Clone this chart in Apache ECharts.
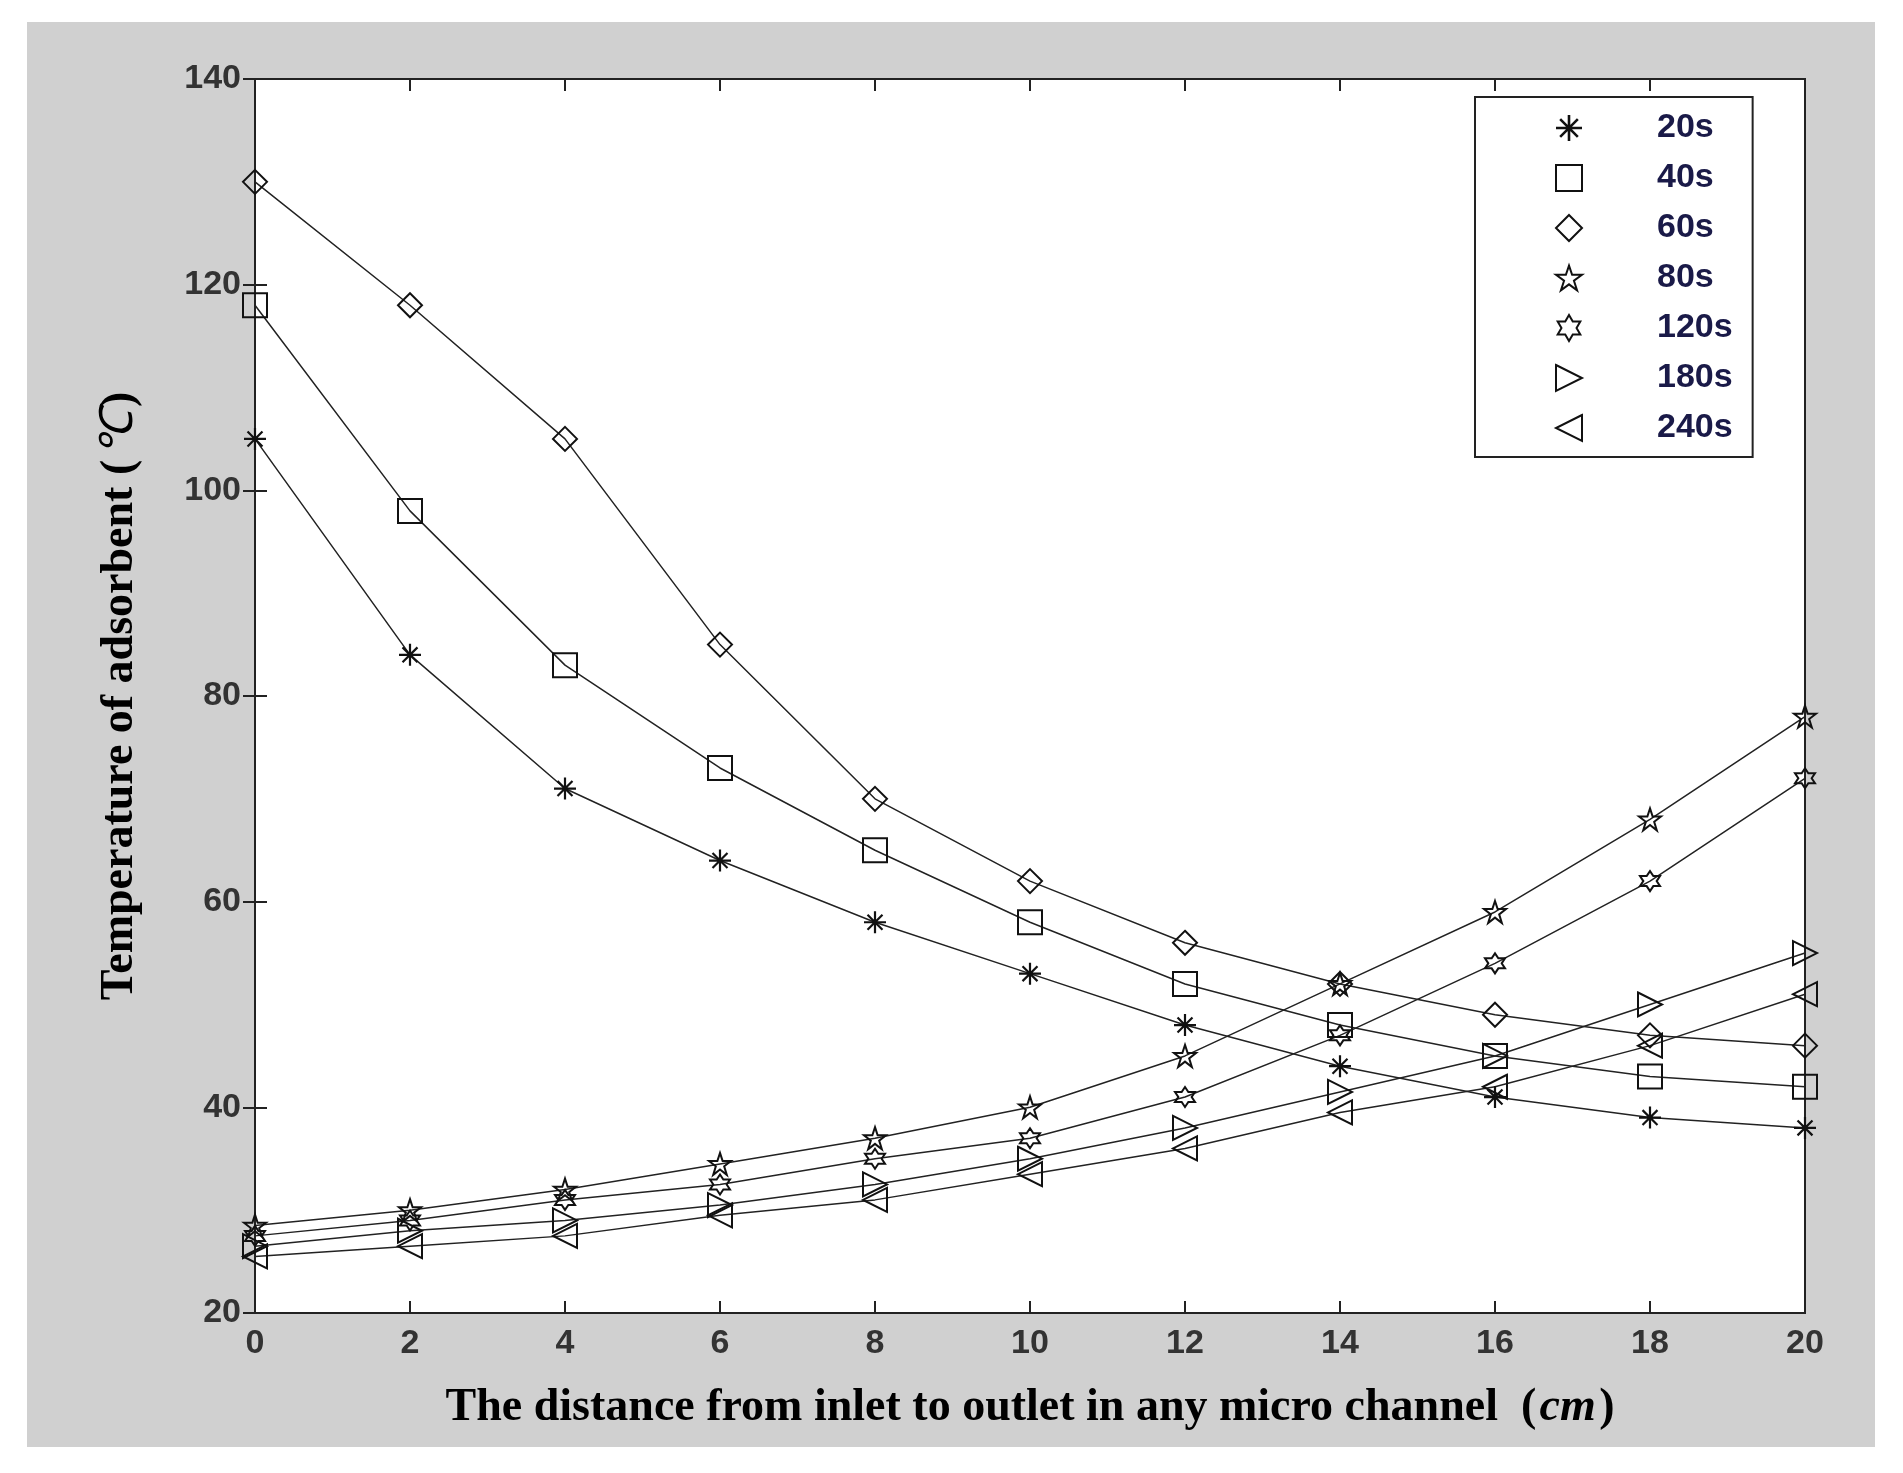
<!DOCTYPE html>
<html>
<head>
<meta charset="utf-8">
<script src="https://cdn.jsdelivr.net/npm/echarts@6/dist/echarts.min.js"></script>
<style>
  body { margin: 0; background: #fff; }
  #chart { position: absolute; left: 27px; top: 22px; width: 1848px; height: 1425px; background: #d0d0d0; }
</style>
</head>
<body>
<div id="chart"></div>
<script>
// distance along channel (cm)
const distance = [0, 2, 4, 6, 8, 10, 12, 14, 16, 18, 20];
const names = ['20s', '40s', '60s', '80s', '120s', '180s', '240s'];
const t20 = [105, 84, 71, 64, 58, 53, 48, 44, 41, 39, 38];
const t40 = [118, 98, 83, 73, 65, 58, 52, 48, 45, 43, 42];
const t60 = [130, 118, 105, 85, 70, 62, 56, 52, 49, 47, 46];
const t80 = [28.5, 30, 32, 34.5, 37, 40, 45, 52, 59, 68, 78];
const t120 = [27.5, 29, 31, 32.5, 35, 37, 41, 47, 54, 62, 72];
const t180 = [26.5, 28, 29, 30.5, 32.5, 35, 38, 41.5, 45, 50, 55];
const t240 = [25.5, 26.5, 27.5, 29.5, 31, 33.5, 36, 39.5, 42, 46, 51];
const allData = [t20, t40, t60, t80, t120, t180, t240];

// marker shapes (matlab-like)
const asterisk = 'path://M9,0 L11,0 L11,20 L9,20 Z M0,9 L20,9 L20,11 L0,11 Z M2.5,3.9 L3.9,2.5 L17.5,16.1 L16.1,17.5 Z M16.1,2.5 L17.5,3.9 L3.9,17.5 L2.5,16.1 Z';
const star5 = 'path://M10,0 L12.4,7 L20,7 L13.8,11.6 L16.2,19 L10,14.4 L3.8,19 L6.2,11.6 L0,7 L7.6,7 Z';
const hexagram = 'path://M10,0 L12.9,5 L18.7,5 L15.8,10 L18.7,15 L12.9,15 L10,20 L7.1,15 L1.3,15 L4.2,10 L1.3,5 L7.1,5 Z';
const triRight = 'path://M0,0 L20,10 L0,20 Z';
const triLeft = 'path://M20,0 L0,10 L20,20 Z';
const symbols = [asterisk, 'rect', 'diamond', star5, hexagram, triRight, triLeft];
const sizes = [22, 24, 24, 22, 20, 24, 24];

const chart = echarts.init(document.getElementById('chart'));
const series = names.map((n, i) => ({
  name: n,
  type: 'line',
  data: distance.map((x, j) => [x, allData[i][j]]),
  symbol: symbols[i],
  symbolSize: sizes[i],
  lineStyle: { color: '#222', width: 1.5 },
  itemStyle: i === 0 ? { color: '#111' } : { color: 'rgba(255,255,255,0)', borderColor: '#111', borderWidth: 2 },
  z: 3
}));

const axisLabel = { color: '#333', fontFamily: 'Arial', fontWeight: 'bold', fontSize: 34, margin: 14 };
const tick = { inside: true, length: 12, lineStyle: { color: '#222', width: 2 } };
const line = { lineStyle: { color: '#222', width: 2 } };
chart.setOption({
  animation: false,
  grid: { left: 228, top: 57, width: 1550, height: 1234, show: true, backgroundColor: '#fff', borderColor: '#222', borderWidth: 2 },
  legend: {
    orient: 'vertical',
    left: 1448, top: 75,
    padding: [14, 20, 12, 80],
    itemGap: 16,
    itemWidth: 26, itemHeight: 26,
    backgroundColor: '#fff',
    borderColor: '#222', borderWidth: 2,
    textStyle: { color: '#1a1a48', fontFamily: 'Arial', fontWeight: 'bold', fontSize: 34, padding: [0, 0, 0, 70] },
    data: names.map((n, i) => ({ name: n, icon: symbols[i] }))
  },
  xAxis: [
    { type: 'value', min: 0, max: 20, interval: 2, position: 'bottom',
      name: '{a|The distance from inlet to outlet in any micro channel  (} {i|cm} {a|)}',
      nameLocation: 'middle', nameGap: 72,
      nameTextStyle: { rich: {
        a: { fontFamily: 'Liberation Serif', fontWeight: 'bold', fontSize: 46, color: '#000' },
        i: { fontFamily: 'Liberation Serif', fontWeight: 'bold', fontStyle: 'italic', fontSize: 46, color: '#000' } } },
      axisLine: line, axisTick: tick, splitLine: { show: false }, axisLabel },
    { type: 'value', min: 0, max: 20, interval: 2, position: 'top',
      axisLine: line, axisTick: tick, axisLabel: { show: false }, splitLine: { show: false } }
  ],
  yAxis: [
    { type: 'value', min: 20, max: 140, interval: 20, position: 'left',
      name: '{a|Temperature of adsorbent (} {i|℃} {a|)}',
      nameLocation: 'middle', nameGap: 112,
      nameTextStyle: { rich: {
        a: { fontFamily: 'Liberation Serif', fontWeight: 'bold', fontSize: 46, color: '#000' },
        i: { fontFamily: 'Liberation Serif', fontStyle: 'italic', fontSize: 46, color: '#000' } } },
      axisLine: line, axisTick: tick, splitLine: { show: false }, axisLabel },
    { type: 'value', min: 20, max: 140, interval: 20, position: 'right',
      axisLine: line, axisTick: tick, axisLabel: { show: false }, splitLine: { show: false } }
  ],
  series
});
</script>
</body>
</html>
